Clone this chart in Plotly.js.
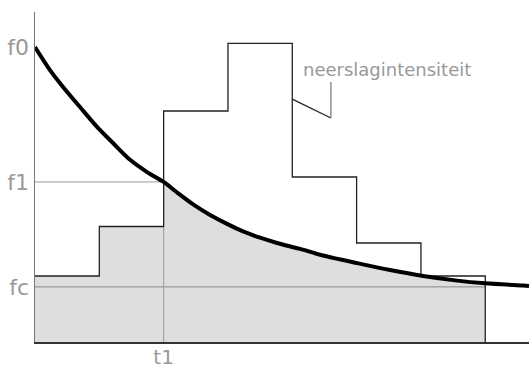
<!DOCTYPE html>
<html><head><meta charset="utf-8">
<script src="https://cdn.plot.ly/plotly-3.0.1.min.js"></script>
<style>html,body{margin:0;padding:0;background:#fff}#c{width:529px;height:372px}</style>
</head><body><div id="c"></div>
<script>
// Hyetograph (rainfall intensity steps)
const stepStart = [0, 1, 2, 3, 4, 5, 6];
const stepEnd = 7;
const intensity = [2.0, 3.5, 7.0, 9.05, 5.0, 3.0, 2.0];
// Infiltration capacity curve (Horton)
const curveT = [0, 0.233, 0.436, 0.70, 0.964, 1.213, 1.478, 1.742, 2.0, 2.209, 2.458, 2.722, 2.986, 3.235, 3.50, 3.764, 4.122, 4.48, 5.008, 5.52, 6.035, 6.564, 7.0, 7.59, 7.68];
const curveF = [8.94, 8.24, 7.73, 7.12, 6.52, 6.03, 5.52, 5.15, 4.85, 4.53, 4.17, 3.85, 3.58, 3.35, 3.16, 3.0, 2.82, 2.62, 2.39, 2.18, 2.0, 1.86, 1.78, 1.71, 1.70];
// reference levels / ticks
const f0 = 8.94, f1 = 4.85, fc = 1.67, t1 = 2.0;
const yTickVals = [f0, f1, fc];
const yTickText = ['f0', 'f1', 'fc'];
const xTickVals = [t1];
const xTickText = ['t1'];
const labelText = 'neerslagintensiteit';
const labelPos = [5.47, 8.26];
const leaderT = [4.0, 4.6, 4.6];
const leaderF = [7.36, 6.79, 7.88];

const traces = [];
// shaded area: under steps until t1, under curve from t1 to end
const fillStepX = [], fillStepY = [];
for (let i = 0; i < stepStart.length; i++) {
  if (stepStart[i] < t1) { fillStepX.push(stepStart[i]); fillStepY.push(intensity[i]); }
}
fillStepX.push(t1); fillStepY.push(fillStepY[fillStepY.length - 1]);
traces.push({x: fillStepX, y: fillStepY, mode: 'lines', line: {shape: 'hv', width: 0}, fill: 'tozeroy', fillcolor: '#dedede', hoverinfo: 'skip'});
const cfx = [], cfy = [];
for (let i = 0; i < curveT.length; i++) {
  if (curveT[i] >= t1 && curveT[i] <= stepEnd) { cfx.push(curveT[i]); cfy.push(curveF[i]); }
}
traces.push({x: cfx, y: cfy, mode: 'lines', line: {shape: 'spline', smoothing: 0.8, width: 0}, fill: 'tozeroy', fillcolor: '#dedede', hoverinfo: 'skip'});
// guide lines
traces.push({x: [0, t1], y: [f1, f1], mode: 'lines', line: {color: '#999', width: 1}});
traces.push({x: [0, stepEnd], y: [fc, fc], mode: 'lines', line: {color: '#888', width: 1}});
traces.push({x: [t1, t1], y: [0, intensity[1]], mode: 'lines', line: {color: '#999', width: 1}});
// step line
const sx = stepStart.concat([stepEnd, stepEnd]);
const sy = intensity.concat([intensity[intensity.length - 1], 0]);
traces.push({x: sx, y: sy, mode: 'lines', line: {shape: 'hv', color: '#222', width: 1.3}});
// curve
traces.push({x: curveT, y: curveF, mode: 'lines', line: {shape: 'spline', smoothing: 0.8, color: '#000', width: 4}});
// leader
traces.push({x: leaderT.slice(0, 2), y: leaderF.slice(0, 2), mode: 'lines', line: {color: '#222', width: 1.2}});
traces.push({x: leaderT.slice(1), y: leaderF.slice(1), mode: 'lines', line: {color: '#777', width: 1.2}});

const tickFont = {family: 'DejaVu Sans', size: 22, color: '#999'};
const layout = {
  width: 529, height: 372,
  margin: {l: 35, r: 0, t: 12, b: 30},
  showlegend: false,
  paper_bgcolor: '#fff', plot_bgcolor: '#fff',
  font: {family: 'DejaVu Sans', color: '#999'},
  xaxis: {range: [0, 7.68], showgrid: false, zeroline: false, showline: true, linecolor: '#333', linewidth: 1.5,
          tickvals: xTickVals, ticktext: xTickText, ticks: '', ticklabelstandoff: -4,
          tickfont: {family: 'DejaVu Sans', size: 20, color: '#999'}},
  yaxis: {range: [0, 10], showgrid: false, zeroline: false, showline: true, linecolor: '#777', linewidth: 1.5,
          tickvals: yTickVals, ticktext: yTickText, ticks: '', tickfont: tickFont},
  annotations: [{x: labelPos[0], y: labelPos[1], xref: 'x', yref: 'y', text: labelText, showarrow: false,
                 font: {family: 'DejaVu Sans', size: 18, color: '#999'}}]
};
Plotly.newPlot('c', traces, layout, {staticPlot: true, displayModeBar: false});
</script></body></html>
